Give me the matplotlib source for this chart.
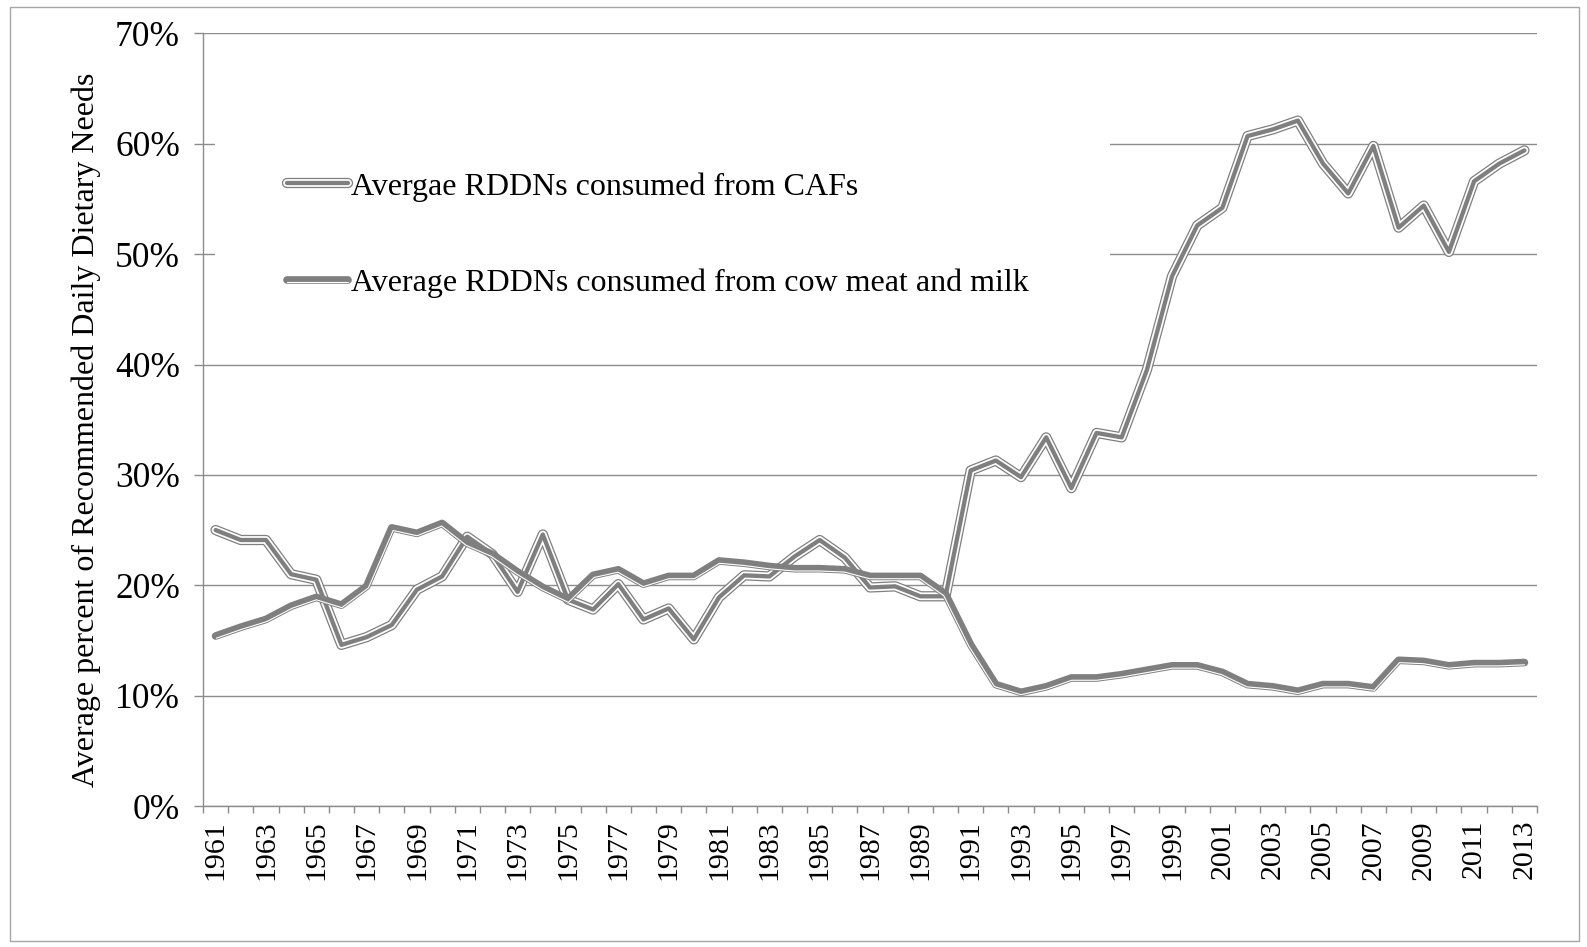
import numpy as np
import matplotlib
matplotlib.use("Agg")
import matplotlib.pyplot as plt
from matplotlib import patheffects
from matplotlib.path import Path
from matplotlib.patches import Rectangle
from matplotlib.transforms import IdentityTransform
from matplotlib.ticker import FixedLocator, FuncFormatter

# ---- data -------------------------------------------------------------
years = list(range(1961, 2014))

caf_pct = [25.0, 24.1, 24.1, 21.0, 20.5, 14.6, 15.3, 16.4, 19.6, 20.8,
           24.4, 22.8, 19.4, 24.6, 18.7, 17.8, 20.1, 16.9, 17.9, 15.1,
           18.9, 20.9, 20.8, 22.6, 24.1, 22.5, 19.8, 19.9, 19.0, 19.0,
           30.4, 31.3, 29.8, 33.4, 28.8, 33.8, 33.4, 39.5, 48.0, 52.6,
           54.2, 60.7, 61.3, 62.1, 58.2, 55.5, 59.8, 52.4, 54.4, 50.2,
           56.6, 58.2, 59.4]

cow_pct = [15.4, 16.2, 16.9, 18.1, 18.9, 18.2, 19.9, 25.2, 24.7, 25.6,
           23.8, 22.8, 21.2, 19.8, 18.7, 20.9, 21.4, 20.1, 20.8, 20.8,
           22.2, 22.0, 21.7, 21.5, 21.5, 21.4, 20.8, 20.8, 20.8, 19.2,
           14.6, 11.0, 10.3, 10.8, 11.6, 11.6, 11.9, 12.3, 12.7, 12.7,
           12.1, 11.0, 10.8, 10.4, 11.0, 11.0, 10.7, 13.2, 13.1, 12.7,
           12.9, 12.9, 13.0]

y_ticks = [0, 10, 20, 30, 40, 50, 60, 70]
labels = ["Avergae RDDNs consumed from CAFs",
          "Average RDDNs consumed from cow meat and milk"]
y_title = "Average percent of Recommended Daily Dietary Needs"

# ---- style ------------------------------------------------------------
LINE_GRAY = "#7f7f7f"
GRID_GRAY = "#8c8c8c"
FONT = ["Liberation Serif", "DejaVu Serif"]
FS_TEXT = 23      # legend and axis title
FS_YTICK = 25.5
FS_XTICK = 21.5

plt.rcParams["font.family"] = FONT


class OffsetStripe(patheffects.AbstractPathEffect):
    """Thin stripe running parallel to the path, shifted to its right-hand side."""

    def __init__(self, shift_pt, lw_pt, color):
        super().__init__()
        self.shift_pt = shift_pt
        self.lw_pt = lw_pt
        self.color = color

    def draw_path(self, renderer, gc, tpath, affine, rgbFace=None):
        v = affine.transform(tpath.vertices)
        v = v[np.all(np.isfinite(v), axis=1)]
        if len(v) < 2:
            return
        shift = renderer.points_to_pixels(self.shift_pt)
        d = np.diff(v, axis=0)
        ln = np.hypot(d[:, 0], d[:, 1])
        ln[ln == 0] = 1
        d = d / ln[:, None]
        n = np.column_stack([d[:, 1], -d[:, 0]])  # right-hand normals
        out = np.empty_like(v)
        out[0] = v[0] + n[0] * shift
        out[-1] = v[-1] + n[-1] * shift
        for i in range(1, len(v) - 1):
            m = n[i - 1] + n[i]
            mn = np.hypot(*m)
            if mn < 1e-9:
                out[i] = v[i] + n[i] * shift
                continue
            m = m / mn
            c = max(np.dot(m, n[i]), 0.7)
            out[i] = v[i] + m * shift / c
        gc0 = renderer.new_gc()
        gc0.copy_properties(gc)
        gc0.set_linewidth(self.lw_pt)
        gc0.set_foreground(self.color)
        renderer.draw_path(gc0, Path(out), IdentityTransform())
        gc0.restore()


W, H = 1587, 947
fig = plt.figure(figsize=(W / 100, H / 100), dpi=100)
fig.patch.set_facecolor("white")

ax_l, ax_b, ax_w, ax_h = 203, 141, 1334, 772.6
ax = fig.add_axes([ax_l / W, ax_b / H, ax_w / W, ax_h / H])

# compound double line for CAFs
caf_effects = [patheffects.Stroke(linewidth=7.4, foreground=LINE_GRAY),
               patheffects.Stroke(linewidth=5.6, foreground="white"),
               patheffects.Normal()]
ax.plot(years, caf_pct, color=LINE_GRAY, lw=3.1,
        solid_capstyle="round", solid_joinstyle="round",
        path_effects=caf_effects, label=labels[0], zorder=3)

# thick-thin line for cow meat and milk
cow_effects = [patheffects.Normal(),
               OffsetStripe(shift_pt=1.65, lw_pt=0.8, color="white")]
ax.plot(years, cow_pct, color=LINE_GRAY, lw=5.5,
        solid_capstyle="round", solid_joinstyle="round",
        path_effects=cow_effects, label=labels[1], zorder=4)

# axes limits and ticks
ax.set_ylim(0, 70)
ax.set_xlim(years[0] - 0.5, years[-1] + 0.5)
ax.yaxis.set_major_locator(FixedLocator(y_ticks))
ax.yaxis.set_major_formatter(FuncFormatter(lambda v, p: f"{v:.0f}%"))
ax.xaxis.set_major_locator(FixedLocator(years[::2]))
ax.xaxis.set_major_formatter(FuncFormatter(lambda v, p: f"{int(round(v))}"))
ax.xaxis.set_minor_locator(FixedLocator([y - 0.5 for y in years] + [years[-1] + 0.5]))

ax.tick_params(axis="y", which="major", direction="out", length=6.5, width=1.0,
               color=GRID_GRAY, pad=10, labelsize=FS_YTICK, labelcolor="black")
ax.tick_params(axis="x", which="major", length=0, pad=10, labelsize=FS_XTICK,
               labelrotation=90, labelcolor="black")
ax.tick_params(axis="x", which="minor", direction="out", length=5, width=1.0,
               color=GRID_GRAY)

ax.grid(axis="y", color=GRID_GRAY, lw=1.0)
ax.grid(axis="x", visible=False)
for s in ("top", "right"):
    ax.spines[s].set_visible(False)
for s in ("left", "bottom"):
    ax.spines[s].set_color(GRID_GRAY)
    ax.spines[s].set_linewidth(1.0)

ax.set_ylabel(y_title, fontsize=FS_TEXT)
ax.yaxis.set_label_coords((101 - ax_l) / ax_w, 0.487)

# white legend area covering the gridlines behind it
ax.add_patch(Rectangle((0.009, 0.616), 0.671, 0.291, transform=ax.transAxes,
                       facecolor="white", edgecolor="none", zorder=1.8))

ax.legend(loc="center left", bbox_to_anchor=((287 - ax_l) / ax_w, 0.739),
          frameon=False, fontsize=FS_TEXT, handlelength=1.9, handletextpad=0.1,
          labelspacing=2.1, borderpad=0, borderaxespad=0)

# chart area border
fig.patches.append(Rectangle((10 / W, 6 / H), (1579 - 10) / W, (940 - 6) / H,
                             transform=fig.transFigure, fill=False,
                             edgecolor="#a6a6a6", lw=1.0))

fig.savefig("out.png", dpi=100)
